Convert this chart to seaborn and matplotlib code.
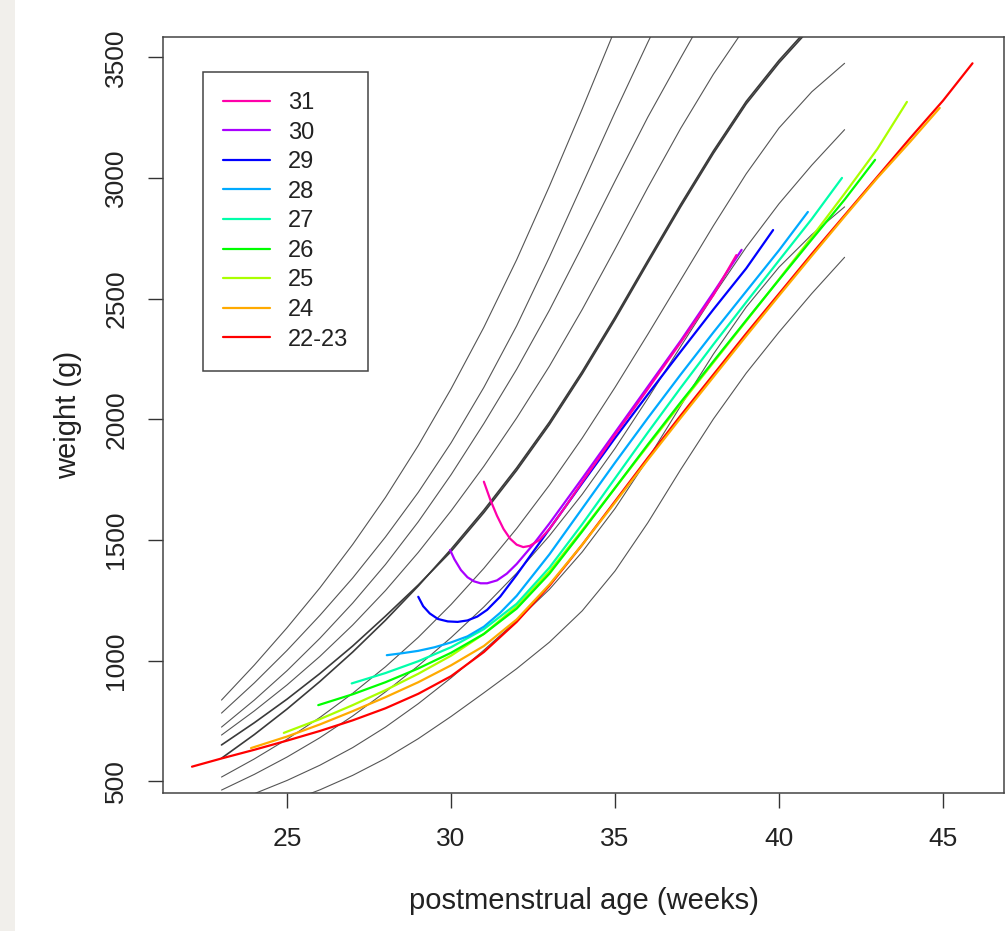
import matplotlib
matplotlib.use("Agg")
import matplotlib.pyplot as plt
from matplotlib.patches import Rectangle
import seaborn as sns
import numpy as np
import pandas as pd

# ---------------- data ----------------
# reference percentile curves (grey), weeks 23..42
ref_weeks = [23, 24, 25, 26, 27, 28, 29, 30, 31, 32, 33, 34, 35, 36, 37, 38, 39, 40, 41, 42]
ref_a = [836, 981, 1136, 1301, 1481, 1676, 1891, 2126, 2381, 2661, 2966, 3286, 3616, 3946]
ref_b = [782, 907, 1042, 1187, 1342, 1512, 1697, 1902, 2132, 2387, 2672, 2972, 3272, 3562, 3842]
ref_c = [724, 836, 958, 1092, 1238, 1398, 1575, 1770, 1982, 2207, 2452, 2717, 2987, 3252, 3497, 3737]
ref_d = [691, 791, 899, 1017, 1147, 1290, 1448, 1620, 1805, 2005, 2220, 2455, 2705, 2960, 3205, 3430, 3630, 3810]
ref_med1 = [595, 693, 799, 913, 1035, 1167, 1309, 1461, 1623, 1798, 1988, 2198, 2423, 2658, 2890, 3112, 3317, 3487, 3637, 3777]
ref_med2 = [650, 742, 840, 946, 1060, 1184, 1313, 1452, 1613, 1788, 1978, 2188, 2413, 2648, 2880, 3102, 3307, 3477, 3627, 3767]
ref_e = [517, 592, 674, 764, 864, 974, 1096, 1232, 1382, 1547, 1727, 1922, 2132, 2352, 2577, 2802, 3017, 3207, 3357, 3475]
ref_f = [463, 528, 600, 680, 770, 870, 978, 1095, 1222, 1362, 1517, 1689, 1879, 2086, 2301, 2513, 2713, 2893, 3053, 3200]
ref_g = [400, 448, 503, 566, 639, 724, 821, 928, 1043, 1165, 1295, 1450, 1630, 1835, 2055, 2270, 2465, 2630, 2765, 2880]
ref_h = [330, 368, 412, 464, 524, 594, 676, 768, 866, 966, 1076, 1206, 1371, 1571, 1791, 2001, 2191, 2361, 2521, 2671]

# gestational-age-at-birth groups (coloured)
groups = ["31", "30", "29", "28", "27", "26", "25", "24", "22-23"]
colors = ["#FF00AA", "#AA00FF", "#0000FF", "#00AAFF", "#00FFAA", "#00FF00", "#AAFF00", "#FFAA00", "#FF0000"]

ga31_x = [31.0, 31.2, 31.4, 31.6, 31.8, 32.0, 32.2, 32.4, 32.7, 33.0, 33.5, 34.0, 35.0, 36.0, 37.0, 38.0, 38.7]
ga31_y = [1741, 1665, 1600, 1545, 1505, 1480, 1470, 1475, 1500, 1545, 1640, 1740, 1935, 2125, 2318, 2515, 2680]
ga30_x = [29.97, 30.1, 30.3, 30.5, 30.7, 30.9, 31.1, 31.4, 31.7, 32.0, 32.5, 33.0, 34.0, 35.0, 36.0, 37.0, 38.0, 38.86]
ga30_y = [1458, 1420, 1375, 1345, 1328, 1320, 1320, 1332, 1360, 1400, 1480, 1568, 1755, 1945, 2135, 2325, 2525, 2702]
ga29_x = [29.0, 29.15, 29.35, 29.6, 29.9, 30.2, 30.5, 30.8, 31.1, 31.5, 32.0, 32.5, 33.0, 34.0, 35.0, 36.0, 37.0, 38.0, 39.0, 39.82]
ga29_y = [1264, 1225, 1195, 1172, 1162, 1160, 1166, 1182, 1210, 1265, 1355, 1450, 1545, 1735, 1922, 2103, 2280, 2455, 2625, 2784]
ga28_x = [28.04, 28.5, 29.0, 29.5, 30.0, 30.5, 31.0, 31.5, 32.0, 33.0, 34.0, 35.0, 36.0, 37.0, 38.0, 39.0, 40.0, 40.88]
ga28_y = [1022, 1030, 1040, 1055, 1075, 1100, 1140, 1198, 1268, 1440, 1630, 1820, 2005, 2185, 2360, 2530, 2700, 2859]
ga27_x = [26.97, 28.0, 29.0, 30.0, 31.0, 32.0, 33.0, 34.0, 35.0, 36.0, 37.0, 38.0, 39.0, 40.0, 41.0, 41.92]
ga27_y = [905, 948, 997, 1055, 1130, 1235, 1385, 1565, 1755, 1945, 2130, 2310, 2485, 2658, 2830, 3000]
ga26_x = [25.95, 27.0, 28.0, 29.0, 30.0, 31.0, 32.0, 33.0, 34.0, 35.0, 36.0, 37.0, 38.0, 39.0, 40.0, 41.0, 42.0, 42.93]
ga26_y = [815, 860, 910, 967, 1032, 1110, 1215, 1360, 1535, 1715, 1895, 2070, 2240, 2410, 2578, 2745, 2910, 3075]
ga25_x = [24.9, 26.0, 27.0, 28.0, 29.0, 30.0, 31.0, 32.0, 33.0, 34.0, 35.0, 36.0, 37.0, 38.0, 39.0, 40.0, 41.0, 42.0, 43.0, 43.9]
ga25_y = [700, 757, 815, 877, 945, 1020, 1110, 1225, 1370, 1540, 1715, 1890, 2063, 2235, 2407, 2580, 2755, 2935, 3120, 3315]
ga24_x = [23.9, 25.0, 26.0, 27.0, 28.0, 29.0, 30.0, 31.0, 32.0, 33.0, 34.0, 35.0, 36.0, 37.0, 38.0, 39.0, 40.0, 41.0, 42.0, 43.0, 44.0, 44.9]
ga24_y = [637, 685, 735, 790, 848, 910, 980, 1060, 1170, 1315, 1480, 1655, 1832, 2005, 2175, 2345, 2512, 2677, 2840, 3000, 3150, 3290]
ga2223_x = [22.1, 23.0, 24.0, 25.0, 26.0, 27.0, 28.0, 29.0, 30.0, 31.0, 32.0, 33.0, 34.0, 35.0, 36.0, 37.0, 38.0, 39.0, 40.0, 41.0, 42.0, 43.0, 44.0, 45.0, 45.9]
ga2223_y = [560, 594, 630, 668, 708, 752, 802, 862, 935, 1035, 1160, 1310, 1480, 1660, 1840, 2015, 2185, 2355, 2520, 2685, 2845, 3005, 3165, 3320, 3475]

x_ticks = [25, 30, 35, 40, 45]
y_ticks = [500, 1000, 1500, 2000, 2500, 3000, 3500]

# ---------------- figure ----------------
sns.set_style("ticks")
plt.rcParams["font.family"] = ["Liberation Sans", "DejaVu Sans"]

fig = plt.figure(figsize=(10.07, 9.31), dpi=100)
fig.patch.set_facecolor("white")
fig.patches.append(Rectangle((0, 0), 15 / 1007, 1, transform=fig.transFigure,
                             facecolor="#f1efeb", edgecolor="none", zorder=0))
ax = fig.add_axes([0.162, 0.148, 0.835, 0.812])

ref_lines = [ref_a, ref_b, ref_c, ref_d, ref_med1, ref_med2, ref_e, ref_f, ref_g, ref_h]
for i, vals in enumerate(ref_lines):
    wk = ref_weeks[:len(vals)]
    med = i in (4, 5)
    sns.lineplot(x=wk, y=vals, ax=ax, color="#3a3a3a" if med else "#555555",
                 lw=1.2 if med else 0.8, sort=False, estimator=None, zorder=2)

gx = [ga31_x, ga30_x, ga29_x, ga28_x, ga27_x, ga26_x, ga25_x, ga24_x, ga2223_x]
gy = [ga31_y, ga30_y, ga29_y, ga28_y, ga27_y, ga26_y, ga25_y, ga24_y, ga2223_y]
handles = []
for k in range(len(groups) - 1, -1, -1):
    sns.lineplot(x=gx[k], y=gy[k], ax=ax, color=colors[k], lw=1.6,
                 sort=False, estimator=None, zorder=3 + (len(groups) - k) * 0.01)
    handles.append(ax.lines[-1])
handles = handles[::-1]

ax.set_xlim(21.22, 46.86)
ax.set_ylim(450, 3583)
ax.set_xticks(x_ticks)
ax.set_yticks(y_ticks)
ax.set_xticklabels([str(t) for t in x_ticks])
ax.set_yticklabels([str(t) for t in y_ticks], rotation=90, va="center")
ax.tick_params(axis="both", direction="out", length=11, width=1.0, color="#333333",
               labelsize=19, labelcolor="#222222", bottom=True, left=True)
ax.tick_params(axis="x", pad=13)
ax.tick_params(axis="y", pad=14)
for s in ax.spines.values():
    s.set_visible(True)
    s.set_color("#444444")
    s.set_linewidth(1.1)
ax.set_xlabel("postmenstrual age (weeks)", fontsize=21, color="#222222", labelpad=26)
ax.set_ylabel("weight (g)", fontsize=21, color="#222222", labelpad=16)

leg = ax.legend(handles, groups, loc="upper left", bbox_to_anchor=(0.0476, 0.954),
                borderaxespad=0, fontsize=17, frameon=True, fancybox=False,
                edgecolor="#444444", framealpha=1, handlelength=2.0, handletextpad=0.75,
                labelspacing=0.32, borderpad=0.85)
leg.get_frame().set_linewidth(1.1)
for t in leg.get_texts():
    t.set_color("#222222")

fig.savefig("out.png", dpi=100, facecolor="white")
